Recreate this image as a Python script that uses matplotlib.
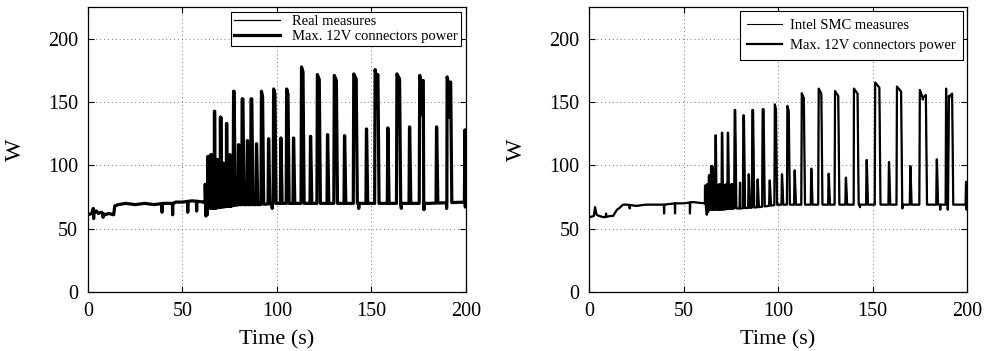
import numpy as np
from matplotlib import pyplot as plt

plt.rcParams["font.family"] = ["Liberation Serif", "DejaVu Serif"]

# ---------------- left panel: real measures ----------------
# baseline (time s, W)
left_base_t = [0, 2, 2.8, 3.5, 4.5, 5.5, 7, 9, 11, 13.6, 14.2, 16, 20, 25, 30, 35, 40,
               45, 46.5, 50, 55, 61.8, 62.6, 66, 70, 76, 80, 90, 100, 120, 140, 160, 180, 200]
left_base_v = [61, 62, 66, 63, 64, 62, 63, 61, 62, 61, 68, 69, 70, 69, 70, 69, 70,
               70, 71, 71, 72, 71, 67, 66, 67, 68, 69, 69, 70, 70, 70, 70, 70, 71]

# short downward glitches
left_dip_t = [3.0, 8.0, 39.2, 44.8, 52.8, 57.5, 62.4, 63.2, 97.5, 143.3, 165.8, 177.8, 189.8, 199.7]
left_dip_v = [58, 59, 63, 61, 63, 64, 60, 61, 66, 66, 66, 65, 66, 67]

# square oscillation at the start of the load phase
left_osc_t = [62.3, 63.0, 64.0, 64.9, 65.8, 66.6, 67.6, 68.4, 69.4, 70.4, 71.2, 72.2, 73.0, 74.0, 74.8, 75.7]
left_osc_v = [85, 84, 86, 83, 86, 84, 85, 83, 86, 84, 85, 84, 86, 83, 85, 84]

# load pulses: centre time, peak, plateau width, mid-plateau notch (0 = none)
left_spk_t = [63.5, 65.2, 67.0, 68.6, 70.2, 71.8, 73.4, 75.1, 77.2, 79.7, 81.8, 84.4,
              86.5, 89.2, 92.1, 95.6, 98.6, 102.1, 105.5, 108.8, 113.4, 117.8, 121.9,
              126.8, 130.9, 135.8, 141.3, 147.4, 152.7, 158.7, 164.2, 170.2, 176.5,
              184.5, 191.0, 199.5]
left_spk_v = [107, 108.5, 142.7, 104.4, 138, 101.8, 133, 108.4, 158.5, 116.3, 152.5, 119.5,
              152.5, 117, 158.5, 121, 160.3, 121.6, 160.3, 121.6, 177.7, 122.9, 171.7,
              124.2, 171, 123.4, 172.2, 128.7, 175.6, 129.5, 172.2, 130.3, 171,
              130.3, 169.8, 128]
left_spk_w = [0.2, 0.2, 0.2, 0.1, 0.2, 0.1, 0.2, 0.1, 0.3, 0.1, 0.4, 0.1,
              0.4, 0.1, 0.6, 0.1, 0.7, 0.1, 0.7, 0.1, 0.8, 0.1, 1.0,
              0.1, 1.1, 0.1, 1.3, 0.1, 1.5, 0.1, 1.4, 0.1, 1.9,
              0.1, 1.9, 0.1]
left_spk_n = [0, 0, 0, 0, 0, 0, 0, 0, 0, 0, 0, 0,
              0, 0, 0, 0, 0, 0, 0, 0, 0, 0, 0,
              0, 0, 0, 0, 0, 145, 0, 0, 0, 140,
              0, 138, 0]

# ---------------- right panel: Intel SMC measures ----------------
right_base_t = [0, 2.5, 3.2, 4.0, 5.5, 8, 11, 12.7, 14.8, 15.8, 18, 20, 25, 30, 35, 40,
                45, 47, 50, 55, 61.2, 62.2, 66, 70, 76, 80, 90, 100, 120, 140, 160, 180, 200]
right_base_v = [59, 60, 67, 61, 60, 59, 60, 60, 65, 66, 69, 69, 68, 69, 69, 69,
                70, 70, 70, 71, 70, 65, 65, 65, 66, 66, 67, 69, 69, 69, 69, 69, 69]

right_dip_t = [9.0, 21.5, 39.7, 45.5, 53.4, 62.3, 63.0, 143.3, 165.8, 185.8, 189.8, 199.7]
right_dip_v = [62, 66, 62, 62, 62, 61, 63, 67, 66, 65, 65, 65]

right_osc_t = [61.6, 62.6, 63.8, 65.6, 66.4, 67.8, 69.4, 71.2, 72.6, 74.4, 75.8]
right_osc_v = [84, 85, 84, 86, 85, 84, 85, 84, 85, 84, 85]

right_spk_t = [63.5, 64.6, 65.3, 67.0, 68.8, 70.4, 72.0, 73.5, 75.3, 77.2, 79.9, 81.8,
               84.5, 86.6, 89.2, 92.1, 95.6, 98.6, 102.1, 105.3, 108.8, 113.1, 117.6,
               122.2, 126.8, 131.0, 135.9, 141.1, 146.9, 152.5, 158.7, 164.0, 170.0,
               176.6, 184.0, 190.5, 199.5]
right_spk_v = [92, 99.5, 99, 123.7, 85, 125.8, 84.2, 125.8, 85, 143.7, 86.3, 139.5,
               92.9, 143.7, 88.9, 144.3, 88.1, 148.2, 92.9, 146.9, 96, 156.9, 97.4,
               160.6, 93.4, 158.7, 90.3, 160.6, 104.2, 165.4, 102.6, 162.2, 99.4,
               159.5, 104.7, 160.6, 87]
right_spk_w = [0.1, 0.1, 0.1, 0.2, 0.1, 0.2, 0.1, 0.2, 0.1, 0.3, 0.1, 0.3,
               0.1, 0.4, 0.1, 0.5, 0.1, 0.6, 0.1, 0.7, 0.1, 1.1, 0.1,
               1.4, 0.1, 1.7, 0.1, 1.9, 0.1, 2.2, 0.1, 2.2, 0.1,
               3.2, 0.1, 3.2, 0.1]
right_spk_n = [0, 0, 0, 0, 0, 0, 0, 0, 0, 0, 0, 0,
               0, 0, 0, 0, 0, 0, 0, 0, 0, 0, 0,
               0, 0, 0, 0, 0, 0, 0, 0, 0, 0,
               152, 0, 153, 0]

xticks = [0, 50, 100, 150, 200]
yticks = [0, 50, 100, 150, 200]


def baseline(t, bt, bv):
    return float(np.interp(t, bt, bv))


def build_trace(bt, bv, dip_t, dip_v, osc_t, osc_v, spk_t, spk_v, spk_w, spk_n,
                rise=0.25, fall=0.6):
    # every event becomes a short list of vertices sitting on the baseline
    pts = [(t, v) for t, v in zip(bt, bv)]
    for t, v in zip(dip_t, dip_v):
        pts += [(t - 0.12, baseline(t - 0.12, bt, bv)), (t, v),
                (t + 0.12, baseline(t + 0.12, bt, bv))]
    for t, v in zip(osc_t, osc_v):
        pts += [(t - 0.3, baseline(t - 0.3, bt, bv)), (t - 0.25, v), (t + 0.2, v),
                (t + 0.25, baseline(t + 0.25, bt, bv))]
    for t, v, w, n in zip(spk_t, spk_v, spk_w, spk_n):
        a = t - w / 2
        b = t + w / 2
        pts.append((a - rise, baseline(a - rise, bt, bv)))
        pts.append((a, v))
        if n:
            pts += [(t - 0.1, v - 6), (t, n), (t + 0.1, v - 6)]
        pts.append((b, v - 4 if w > 0.5 else v))
        pts.append((b + fall, baseline(b + fall, bt, bv)))
    pts.sort(key=lambda p: p[0])
    x = np.array([p[0] for p in pts])
    y = np.array([p[1] for p in pts])
    keep = (x >= 0) & (x <= 200)
    return x[keep], y[keep]


def style_axes(ax):
    ax.set_xlim(0, 200)
    ax.set_ylim(0, 225)
    ax.set_xticks(xticks)
    ax.set_yticks(yticks)
    ax.tick_params(direction="in", top=True, right=True, length=4, width=0.8,
                   labelsize=14.5, pad=7)
    ax.grid(True, linestyle=(0, (1, 3)), color="0.45", linewidth=0.7)
    for s in ax.spines.values():
        s.set_linewidth(0.9)
    ax.set_xlabel("Time (s)", fontsize=16, labelpad=7)
    ax.set_ylabel("W", fontsize=17, labelpad=16)


fig = plt.figure(figsize=(9.85, 3.51), dpi=100)

ax_left = fig.add_axes([0.0893, 0.168, 0.3837, 0.812])
lx, ly = build_trace(left_base_t, left_base_v, left_dip_t, left_dip_v, left_osc_t,
                     left_osc_v, left_spk_t, left_spk_v, left_spk_w, left_spk_n)
ax_left.plot(lx, ly, color="black", linewidth=0.9, label="Real measures")
ax_left.plot(lx, ly, color="black", linewidth=2.3, label="Max. 12V connectors power")
style_axes(ax_left)
leg = ax_left.legend(loc="upper right", fontsize=10.5, fancybox=False, framealpha=1,
                     edgecolor="black", borderaxespad=0.35, handlelength=3.2,
                     borderpad=0.2, labelspacing=0.1)
leg.get_frame().set_linewidth(0.8)

ax_right = fig.add_axes([0.598, 0.168, 0.3838, 0.812])
rx, ry = build_trace(right_base_t, right_base_v, right_dip_t, right_dip_v, right_osc_t,
                     right_osc_v, right_spk_t, right_spk_v, right_spk_w, right_spk_n)
ax_right.plot(rx, ry, color="black", linewidth=0.8, label="Intel SMC measures")
ax_right.plot(rx, ry, color="black", linewidth=1.6, label="Max. 12V connectors power")
style_axes(ax_right)
leg = ax_right.legend(loc="upper right", fontsize=10.5, fancybox=False, framealpha=1,
                      edgecolor="black", borderaxespad=0.3, handlelength=2.4,
                      handletextpad=0.5, borderpad=0.5, labelspacing=0.5)
leg.get_frame().set_linewidth(0.8)

fig.savefig("out.png", dpi=100)
